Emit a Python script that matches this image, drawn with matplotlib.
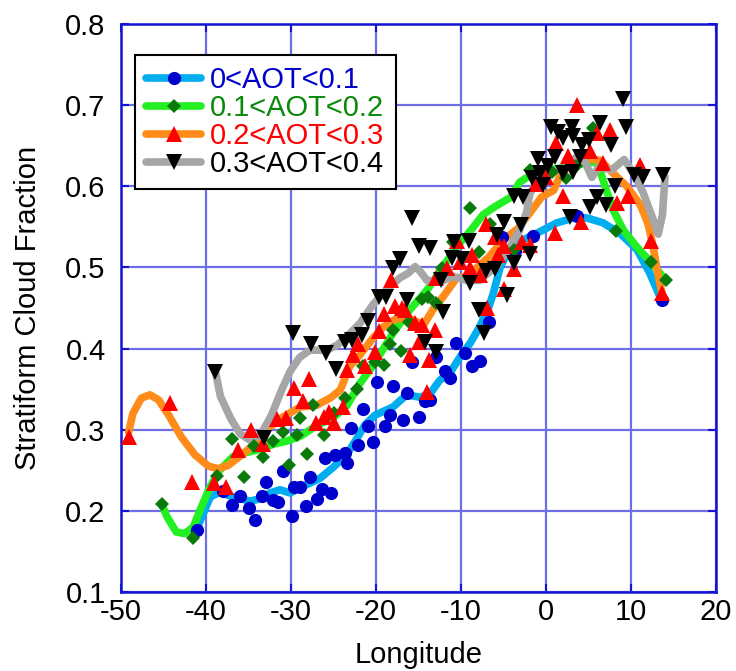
import matplotlib
matplotlib.use("Agg")
import matplotlib.pyplot as plt
from matplotlib.lines import Line2D

plt.rcParams['font.family'] = ['Liberation Sans', 'DejaVu Sans']

# ---------------- data ----------------
labels = ["0<AOT<0.1", "0.1<AOT<0.2", "0.2<AOT<0.3", "0.3<AOT<0.4"]

blue_x = [-41.1, -38.0, -37.0, -36.0, -35.0, -34.2, -33.4, -32.9, -32.1, -31.5, -30.9, -29.9, -29.7,
          -28.9, -28.2, -27.8, -27.0, -26.4, -26.0, -25.3, -24.8, -23.7, -23.4, -22.9, -22.1, -21.5,
          -21.0, -20.3, -19.9, -18.9, -18.4, -18.0, -16.8, -16.4, -15.8, -14.9, -14.2, -13.6, -12.9,
          -11.9, -11.3, -10.6, -9.5, -8.7, -7.8, -6.7, -5.2, -3.7, -1.5, 3.6, 13.6]
blue_y = [0.176, 0.224, 0.207, 0.218, 0.203, 0.189, 0.218, 0.236, 0.213, 0.211, 0.249, 0.194, 0.230,
          0.229, 0.206, 0.242, 0.215, 0.227, 0.265, 0.222, 0.269, 0.271, 0.259, 0.302, 0.281, 0.326,
          0.304, 0.285, 0.359, 0.304, 0.318, 0.354, 0.312, 0.345, 0.384, 0.316, 0.335, 0.337, 0.390,
          0.372, 0.364, 0.407, 0.394, 0.378, 0.385, 0.433, 0.538, 0.520, 0.539, 0.563, 0.460]

green_x = [-45.2, -41.5, -38.7, -36.9, -35.5, -34.3, -33.3, -32.1, -31.0, -30.2, -29.3, -29.0, -28.1,
           -27.4, -26.1, -25.0, -23.6, -22.2, -21.5, -20.1, -19.1, -18.4, -18.0, -17.1, -16.1, -14.6,
           -13.9, -12.9, -12.2, -10.9, -8.9, -7.9, -6.6, -3.8, -1.9, 0.7, 2.3, 3.5, 5.5, 8.2, 12.4, 14.1]
green_y = [0.208, 0.167, 0.243, 0.288, 0.242, 0.280, 0.266, 0.286, 0.297, 0.257, 0.294, 0.314, 0.270,
           0.331, 0.293, 0.320, 0.339, 0.350, 0.378, 0.384, 0.380, 0.406, 0.423, 0.397, 0.433, 0.461,
           0.463, 0.456, 0.499, 0.531, 0.573, 0.519, 0.553, 0.521, 0.620, 0.617, 0.610, 0.625, 0.672,
           0.545, 0.507, 0.485]

red_x = [-49.1, -44.2, -41.7, -39.1, -37.6, -36.2, -34.7, -33.3, -31.6, -30.6, -29.6, -28.6, -27.9,
         -27.1, -26.1, -25.5, -24.9, -23.9, -23.4, -22.7, -22.1, -21.3, -20.1, -19.6, -19.1, -18.2,
         -17.8, -17.0, -16.6, -16.0, -15.4, -15.0, -14.6, -14.0, -13.8, -13.1, -12.9, -11.7, -10.5,
         -10.1, -8.9, -8.7, -7.8, -7.1, -6.9, -6.0, -5.6, -5.0, -5.0, -3.8, -2.8, -1.9, -1.2, 0.0,
         1.1, 1.2, 2.0, 2.6, 3.7, 4.1, 5.2, 6.0, 6.7, 7.5, 8.4, 9.6, 11.0, 12.3, 13.7]
red_y = [0.291, 0.333, 0.236, 0.234, 0.230, 0.275, 0.300, 0.282, 0.313, 0.315, 0.351, 0.335, 0.363,
         0.308, 0.316, 0.322, 0.308, 0.328, 0.373, 0.392, 0.406, 0.379, 0.396, 0.422, 0.443, 0.485,
         0.452, 0.450, 0.448, 0.392, 0.431, 0.408, 0.429, 0.347, 0.386, 0.423, 0.487, 0.499, 0.532,
         0.507, 0.499, 0.515, 0.491, 0.553, 0.450, 0.538, 0.515, 0.527, 0.474, 0.498, 0.531, 0.528,
         0.603, 0.612, 0.543, 0.653, 0.588, 0.637, 0.700, 0.556, 0.643, 0.666, 0.629, 0.669, 0.579,
         0.588, 0.626, 0.532, 0.469]

black_x = [-39.0, -33.2, -29.8, -27.7, -25.9, -24.7, -23.7, -22.8, -21.6, -20.9, -19.7, -18.8, -18.0,
           -17.2, -16.4, -15.8, -15.0, -13.6, -14.2, -12.9, -12.1, -12.3, -11.1, -10.8, -9.9, -9.1,
           -8.9, -7.9, -7.3, -7.1, -6.0, -5.8, -5.0, -4.6, -3.8, -3.8, -2.7, -2.9, -1.9, -1.6, -0.7,
           -0.3, -1.0, 0.2, 1.1, 2.0, 3.2, 0.6, 1.4, 2.0, 3.1, 3.2, 4.2, 5.0, 6.3, 7.7, 9.4, 9.1, 4.0,
           8.1, 6.0, 5.2, 7.1, 2.8, 10.3, 11.4, 13.8]
black_y = [0.371, 0.290, 0.419, 0.406, 0.394, 0.375, 0.408, 0.410, 0.417, 0.434, 0.464, 0.464, 0.499,
           0.510, 0.460, 0.561, 0.526, 0.524, 0.408, 0.396, 0.445, 0.484, 0.512, 0.531, 0.511, 0.533,
           0.481, 0.447, 0.419, 0.496, 0.498, 0.540, 0.556, 0.466, 0.505, 0.588, 0.587, 0.552, 0.516,
           0.610, 0.616, 0.602, 0.634, 0.625, 0.636, 0.616, 0.618, 0.673, 0.667, 0.660, 0.673, 0.662,
           0.651, 0.657, 0.678, 0.651, 0.673, 0.708, 0.636, 0.600, 0.587, 0.575, 0.577, 0.562, 0.614,
           0.612, 0.614]

# smoothed curves
bl_x = [-41.0, -39.5, -38.4, -36.8, -34.8, -33.6, -32.5, -31.3, -30.1, -28.9, -27.8, -26.6, -25.0,
        -23.4, -22.2, -21.3, -20.1, -18.0, -16.4, -14.8, -13.6, -12.5, -11.3, -10.1, -8.9, -7.8,
        -6.8, -6.2, -5.4, -4.2, -2.7, -1.1, 1.3, 3.6, 4.8, 6.7, 8.7, 10.7, 12.2, 13.4]
bl_y = [0.180, 0.217, 0.223, 0.217, 0.212, 0.215, 0.222, 0.226, 0.222, 0.229, 0.234, 0.240, 0.254,
        0.270, 0.290, 0.306, 0.318, 0.328, 0.343, 0.340, 0.345, 0.361, 0.370, 0.390, 0.407, 0.427,
        0.449, 0.468, 0.500, 0.525, 0.534, 0.542, 0.555, 0.562, 0.561, 0.555, 0.542, 0.522, 0.493, 0.464]

gl_x = [-45.2, -44.6, -43.5, -42.5, -41.5, -40.7, -39.5, -38.4, -36.8, -35.2, -33.6, -32.1, -30.5,
        -28.9, -27.0, -25.0, -23.4, -21.9, -20.3, -18.0, -16.0, -14.0, -12.1, -10.5, -8.9, -7.4,
        -6.0, -4.2, -3.1, -1.5, 0.5, 2.4, 4.4, 5.9, 6.4, 7.1, 7.9, 9.1, 10.7, 12.2, 14.2]
gl_y = [0.208, 0.193, 0.174, 0.172, 0.180, 0.201, 0.230, 0.250, 0.267, 0.272, 0.276, 0.282, 0.286,
        0.292, 0.305, 0.315, 0.330, 0.357, 0.380, 0.419, 0.448, 0.472, 0.501, 0.526, 0.545, 0.565,
        0.575, 0.586, 0.605, 0.616, 0.620, 0.624, 0.628, 0.630, 0.618, 0.595, 0.571, 0.546, 0.525,
        0.508, 0.483]

ol_x = [-49.1, -48.6, -47.6, -46.6, -45.6, -44.4, -42.9, -41.3, -39.7, -38.6, -37.4, -35.8, -34.2,
        -32.9, -30.9, -28.9, -27.0, -25.4, -24.2, -23.1, -21.9, -20.5, -19.1, -17.6, -16.0, -14.4,
        -13.3, -12.1, -10.5, -9.3, -8.0, -6.8, -5.0, -3.3, -1.7, -0.5, 0.9, 1.6, 2.8, 4.8, 6.4, 7.9,
        9.5, 11.1, 12.0, 12.6, 13.0, 13.6]
ol_y = [0.297, 0.320, 0.339, 0.343, 0.337, 0.318, 0.291, 0.269, 0.255, 0.252, 0.256, 0.269, 0.283,
        0.300, 0.316, 0.328, 0.330, 0.339, 0.349, 0.378, 0.392, 0.411, 0.427, 0.437, 0.437, 0.429,
        0.448, 0.464, 0.487, 0.489, 0.501, 0.512, 0.534, 0.548, 0.570, 0.587, 0.595, 0.612, 0.628,
        0.634, 0.632, 0.616, 0.600, 0.577, 0.554, 0.526, 0.501, 0.470]

gr_x = [-38.9, -38.3, -37.1, -36.0, -34.8, -33.6, -32.3, -31.1, -30.1, -29.0, -27.8, -25.8, -24.6,
        -23.4, -21.9, -20.3, -18.8, -17.2, -16.2, -15.4, -14.8, -14.0, -12.5, -10.9, -9.3, -7.8,
        -6.6, -5.8, -4.2, -3.1, -2.3, -1.9, -0.7, 0.5, 2.0, 3.6, 4.4, 5.4, 6.2, 7.7, 9.2, 10.4, 11.4,
        12.4, 13.2, 13.7, 14.0]
gr_y = [0.372, 0.341, 0.314, 0.295, 0.287, 0.293, 0.318, 0.349, 0.372, 0.389, 0.398, 0.398, 0.404,
        0.415, 0.431, 0.455, 0.472, 0.487, 0.493, 0.501, 0.495, 0.484, 0.482, 0.489, 0.484, 0.484,
        0.495, 0.501, 0.526, 0.546, 0.567, 0.591, 0.612, 0.616, 0.622, 0.636, 0.634, 0.611, 0.624,
        0.620, 0.633, 0.614, 0.593, 0.565, 0.541, 0.565, 0.612]

x_ticks = [-50, -40, -30, -20, -10, 0, 10, 20]
y_ticks = [0.1, 0.2, 0.3, 0.4, 0.5, 0.6, 0.7, 0.8]

# ---------------- style ----------------
line_colors = ['#00AEEF', '#22F022', '#FF8C1A', '#A6A6A6']
mark_colors = ['#0000CC', '#0A7A0A', '#FF0000', '#000000']
text_colors = ['#0000CC', '#0A8A0A', '#FF0000', '#000000']
markers = ['o', 'D', '^', 'v']
msizes = [9.5, 7.5, 11, 11]
axis_blue = '#1414D2'
grid_blue = '#6E6EE6'
FS = 21

fig = plt.figure(figsize=(7.36, 6.71), dpi=100)
ax = fig.add_axes([121/736, 1 - 592/671, 595/736, 568/671])

curves = [(bl_x, bl_y), (gl_x, gl_y), (ol_x, ol_y), (gr_x, gr_y)]
points = [(blue_x, blue_y), (green_x, green_y), (red_x, red_y), (black_x, black_y)]

for i, (cx, cy) in enumerate(curves):
    ax.plot(cx, cy, color=line_colors[i], lw=5.5, solid_capstyle='round',
            solid_joinstyle='round', zorder=3)
for i, (px, py) in enumerate(points):
    ax.plot(px, py, linestyle='none', marker=markers[i], ms=msizes[i],
            color=mark_colors[i], markeredgewidth=0, zorder=4 + i)

ax.set_xlim(-50, 20)
ax.set_ylim(0.1, 0.8)
ax.set_xticks(x_ticks)
ax.set_yticks(y_ticks)
ax.set_xticklabels([str(v) for v in x_ticks])
ax.set_yticklabels([f"{v:.1f}" for v in y_ticks])
ax.grid(True, color=grid_blue, lw=1.6, zorder=1)
ax.set_axisbelow(True)
for s in ax.spines.values():
    s.set_color(axis_blue)
    s.set_linewidth(1.8)
ax.tick_params(direction='in', length=6, width=1.5, color=axis_blue,
               top=True, right=True, labelsize=FS)
ax.tick_params(axis='y', pad=11)
ax.tick_params(axis='x', pad=4)
ax.set_xlabel("Longitude", fontsize=FS, labelpad=11)
ax.set_ylabel("Stratiform Cloud Fraction", fontsize=FS, labelpad=17)

handles = [Line2D([0], [0], color=line_colors[i], lw=5.5, marker=markers[i], ms=msizes[i],
                  markerfacecolor=mark_colors[i], markeredgewidth=0, solid_capstyle='round')
           for i in range(4)]
leg = ax.legend(handles, labels, loc='upper left', bbox_to_anchor=(0.0235, 0.945),
                fontsize=FS, handlelength=1.9, handletextpad=0.3, labelspacing=0.0,
                borderpad=0.38, borderaxespad=0, fancybox=False, framealpha=1,
                edgecolor='black')
leg.get_frame().set_linewidth(1.5)
leg.set_zorder(10)
for t, c in zip(leg.get_texts(), text_colors):
    t.set_color(c)

fig.savefig("out.png", dpi=100)
